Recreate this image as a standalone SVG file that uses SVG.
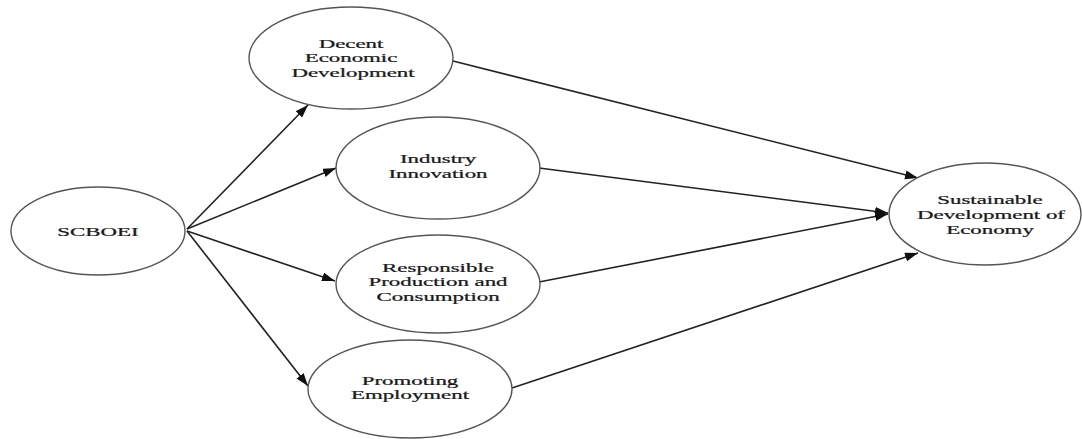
<svg xmlns="http://www.w3.org/2000/svg" width="1082" height="439" viewBox="0 0 1082 439">
<style>
.node ellipse{fill:#fff;stroke:#555;stroke-width:1.4}
.node text{font-family:"Liberation Serif","Times New Roman",serif;font-size:13px;fill:#1a1a1a;text-anchor:middle;stroke:#1a1a1a;stroke-width:0.25}
.edges line{stroke:#222;stroke-width:1.6;marker-end:url(#arr)}
</style>
<defs>
<marker id="arr" markerUnits="userSpaceOnUse" markerWidth="14" markerHeight="10" refX="13" refY="4.5" orient="auto">
<path d="M0,0 L13,4.5 L0,9 z" fill="#111"/>
</marker>
</defs>
<rect width="1082" height="439" fill="#fff"/>
<g class="edges" id="connectors">
<line x1="187" y1="229" x2="308" y2="105"/>
<line x1="187" y1="229" x2="336" y2="168"/>
<line x1="187" y1="231" x2="335" y2="281"/>
<line x1="187" y1="231" x2="308" y2="386"/>
<line x1="453" y1="61" x2="918" y2="178"/>
<line x1="539" y1="168" x2="888" y2="213"/>
<line x1="539" y1="282" x2="888" y2="214"/>
<line x1="512" y1="388" x2="918" y2="253"/>
</g>
<g class="node" id="n-scboei">
<ellipse cx="98" cy="231" rx="87" ry="44"/>
<text transform="translate(98,236) scale(1.76,1)">SCBOEI</text>
</g>
<g class="node" id="n-decent">
<ellipse cx="351" cy="58" rx="102" ry="51"/>
<text transform="translate(351,48) scale(1.76,1)">Decent</text>
<text transform="translate(351,62) scale(1.76,1)">Economic</text>
<text transform="translate(353,77) scale(1.76,1)">Development</text>
</g>
<g class="node" id="n-industry">
<ellipse cx="438" cy="168" rx="102" ry="51"/>
<text transform="translate(438,163) scale(1.76,1)">Industry</text>
<text transform="translate(438,178) scale(1.76,1)">Innovation</text>
</g>
<g class="node" id="n-responsible">
<ellipse cx="438" cy="284" rx="102" ry="49"/>
<text transform="translate(438,271.5) scale(1.76,1)">Responsible</text>
<text transform="translate(438,286) scale(1.76,1)">Production and</text>
<text transform="translate(438,300.5) scale(1.76,1)">Consumption</text>
</g>
<g class="node" id="n-promoting">
<ellipse cx="410" cy="389" rx="102" ry="49"/>
<text transform="translate(410,384.5) scale(1.76,1)">Promoting</text>
<text transform="translate(410,399) scale(1.76,1)">Employment</text>
</g>
<g class="node" id="n-sustainable">
<ellipse cx="985" cy="214" rx="96" ry="51"/>
<text transform="translate(990,204) scale(1.76,1)">Sustainable</text>
<text transform="translate(991,219) scale(1.76,1)">Development of</text>
<text transform="translate(990,233.5) scale(1.76,1)">Economy</text>
</g>
</svg>
